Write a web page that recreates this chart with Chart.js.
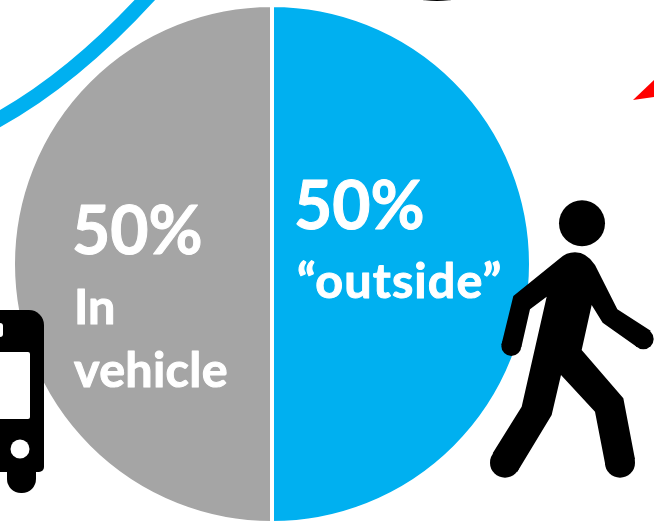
<!DOCTYPE html>
<html>
<head>
<meta charset="utf-8">
<title>Trip time split</title>
<script src="https://cdn.jsdelivr.net/npm/chart.js@4"></script>
<style>
  html, body { margin: 0; padding: 0; background: #fff; }
  #wrap { position: relative; width: 654px; height: 527px; overflow: hidden; }
</style>
</head>
<body>
<div id="wrap"><canvas id="pie" width="654" height="527"></canvas></div>
<script>
// slices, clockwise from 12 o'clock
const categories = ['"outside"', 'In vehicle'];
const shares = [50, 50];
const sliceColors = ['#00B0F0', '#A5A5A5'];

const labelFont = '"Lato", "Open Sans", sans-serif';

// slice captions
const captions = [
  {text: '50%', x: 294, y: 229, size: 66, spacing: 0},
  {text: '\u201Coutside\u201D', x: 297, y: 298, size: 48.5, spacing: 1.1},
  {text: '50%', x: 72, y: 254, size: 66, spacing: 0},
  {text: 'In', x: 74, y: 324, size: 48.5, spacing: 0},
  {text: 'vehicle', x: 74, y: 387, size: 48.5, spacing: 0.3}
];

function drawWalker(ctx) {
  ctx.save();
  ctx.translate(480, 190);
  ctx.scale(1 / 3, 1 / 3);
  ctx.fillStyle = '#000';

  ctx.beginPath();
  ctx.arc(306, 100, 69, 0, Math.PI * 2);
  ctx.fill();

  ctx.beginPath();
  ctx.moveTo(240, 205);
  ctx.lineTo(100, 318);
  ctx.lineTo(64, 465);
  ctx.lineTo(124, 472);
  ctx.lineTo(150, 358);
  ctx.lineTo(200, 320);
  ctx.lineTo(125, 650);
  ctx.lineTo(38, 790);
  ctx.lineTo(112, 845);
  ctx.lineTo(215, 675);
  ctx.lineTo(243, 555);
  ctx.lineTo(345, 665);
  ctx.lineTo(376, 825);
  ctx.lineTo(465, 808);
  ctx.lineTo(430, 625);
  ctx.lineTo(305, 480);
  ctx.lineTo(335, 345);
  ctx.lineTo(368, 398);
  ctx.lineTo(472, 472);
  ctx.lineTo(512, 422);
  ctx.lineTo(412, 358);
  ctx.lineTo(345, 225);
  ctx.quadraticCurveTo(320, 187, 285, 187);
  ctx.quadraticCurveTo(258, 187, 240, 205);
  ctx.closePath();
  ctx.fill();

  // rounded hands and feet
  [[94, 468, 30], [75, 818, 45], [420, 818, 45], [490, 447, 31]].forEach(p => {
    ctx.beginPath();
    ctx.arc(p[0], p[1], p[2], 0, Math.PI * 2);
    ctx.fill();
  });
  ctx.restore();
}

function drawBus(ctx) {
  ctx.save();
  ctx.fillStyle = '#000';
  ctx.beginPath();
  ctx.roundRect(-30, 310, 74, 162, [0, 15, 5, 0]);
  ctx.fill();

  // rear wheel
  ctx.beginPath();
  ctx.roundRect(7, 465, 29, 28, [0, 0, 14, 14]);
  ctx.fill();

  ctx.fillStyle = '#fff';
  ctx.beginPath();
  ctx.roundRect(-10, 352, 40, 67, 2);
  ctx.fill();
  ctx.beginPath();
  ctx.arc(20, 449, 9.5, 0, Math.PI * 2);
  ctx.fill();
  ctx.beginPath();
  ctx.roundRect(-6, 323, 9, 14, 3);
  ctx.fill();
  ctx.restore();
}

const extras = {
  id: 'extras',
  beforeDatasetsDraw(chart) {
    const ctx = chart.ctx;
    ctx.save();

    // route line, upper left
    ctx.strokeStyle = '#00B0F0';
    ctx.lineWidth = 15;
    ctx.beginPath();
    ctx.moveTo(-10, 124);
    ctx.quadraticCurveTo(72, 81, 154, -10);
    ctx.stroke();

    // edge of the dark shape at the top
    ctx.fillStyle = '#000';
    ctx.beginPath();
    ctx.ellipse(437, -8, 31, 9, 0, 0, Math.PI * 2);
    ctx.fill();

    // arrow tip at the right
    ctx.fillStyle = '#FF0000';
    ctx.beginPath();
    ctx.moveTo(633, 100);
    ctx.lineTo(654, 80);
    ctx.lineTo(654, 97);
    ctx.closePath();
    ctx.fill();
    ctx.restore();
  },
  afterDatasetsDraw(chart) {
    const ctx = chart.ctx;
    drawBus(ctx);
    drawWalker(ctx);

    ctx.save();
    ctx.fillStyle = '#fff';
    ctx.strokeStyle = '#fff';
    ctx.lineWidth = 1;
    ctx.lineJoin = 'round';
    ctx.textAlign = 'left';
    ctx.textBaseline = 'alphabetic';
    captions.forEach(c => {
      ctx.font = 'bold ' + c.size + 'px ' + labelFont;
      ctx.letterSpacing = c.spacing + 'px';
      ctx.fillText(c.text, c.x, c.y);
      ctx.strokeText(c.text, c.x, c.y);
    });
    ctx.restore();
  }
};

new Chart(document.getElementById('pie').getContext('2d'), {
  type: 'pie',
  data: {
    labels: categories,
    datasets: [{
      data: shares,
      backgroundColor: sliceColors,
      borderColor: '#fff',
      borderWidth: 4
    }]
  },
  options: {
    responsive: false,
    animation: false,
    layout: {padding: {left: 11, right: 121, top: 3, bottom: 2}},
    plugins: {legend: {display: false}, tooltip: {enabled: false}, title: {display: false}}
  },
  plugins: [extras]
});
</script>
</body>
</html>
